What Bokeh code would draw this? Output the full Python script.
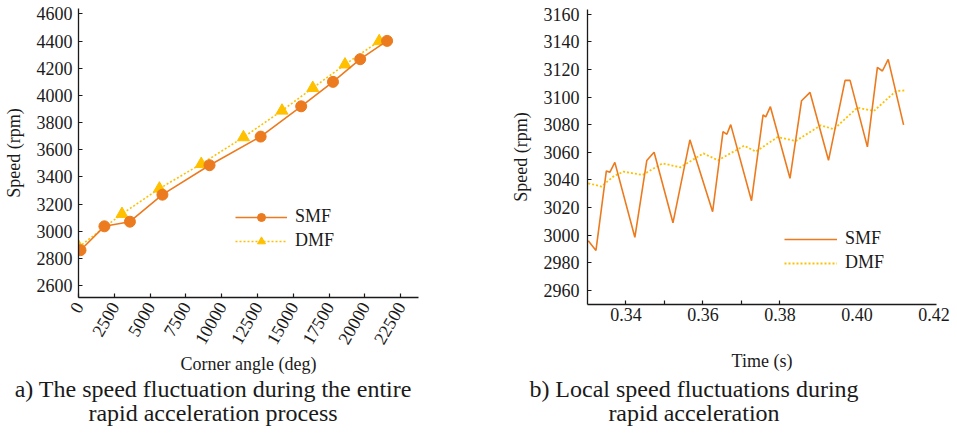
import math
from bokeh.plotting import figure
from bokeh.models import Range1d, FixedTicker, Legend, LegendItem, Div
from bokeh.layouts import row, column
from bokeh.embed import file_html
from bokeh.resources import INLINE

# ---------------- data: panel a (whole acceleration) ----------------
angle_smf = [140, 1810, 3590, 5860, 9150, 12720, 15550, 17770, 19670, 21550]
speed_smf = [2860, 3036, 3070, 3269, 3486, 3697, 3920, 4100, 4267, 4402]
angle_dmf = [20, 3035, 5650, 8570, 11520, 14210, 16360, 18610, 21000]
speed_dmf = [2884, 3127, 3314, 3495, 3692, 3888, 4055, 4228, 4400]
a_x_ticks = [0, 2500, 5000, 7500, 10000, 12500, 15000, 17500, 20000, 22500]
a_x_labels = ["0", "2500", "5000", "7500", "10000", "12500", "15000", "17500", "20000", "22500"]
a_y_ticks = [2600, 2800, 3000, 3200, 3400, 3600, 3800, 4000, 4200, 4400, 4600]

# ---------------- data: panel b (local fluctuation) ----------------
time_smf = [0.3302, 0.3322, 0.3349, 0.3358, 0.3371, 0.3423, 0.3454, 0.3473, 0.3522,
            0.3566, 0.3625, 0.3652, 0.3662, 0.3672, 0.3726, 0.3756, 0.3763, 0.3775,
            0.3826, 0.3856, 0.3878, 0.3926, 0.3969, 0.3982, 0.4027, 0.4053, 0.4066,
            0.4081, 0.4121]
speed_smf_b = [2996, 2989, 3046.5, 3045.5, 3052.7, 2998.5, 3054, 3060, 3009,
               3069, 3017, 3075, 3073, 3080, 3025, 3087, 3085.6, 3093,
               3041.2, 3097.3, 3103.3, 3054.2, 3112, 3112, 3063.9, 3121.4, 3118.8,
               3127.2, 3079.8]
time_dmf = [0.3302, 0.3336, 0.3369, 0.3394, 0.3443, 0.3495, 0.3541, 0.3601, 0.3639,
            0.3707, 0.3737, 0.3794, 0.3841, 0.3906, 0.3940, 0.4001, 0.4044, 0.4101,
            0.4127]
speed_dmf_b = [3037.6, 3035.2, 3042.9, 3046, 3043.6, 3052, 3049.1, 3059.2, 3054.2,
               3064.8, 3060.5, 3071, 3068.2, 3079.5, 3076.7, 3092.3, 3089.9, 3104.3,
               3104.8]
b_x_ticks = [0.34, 0.36, 0.38, 0.40, 0.42]
b_x_labels = ["0.34", "0.36", "0.38", "0.40", "0.42"]
b_x_marks = [0.34, 0.35, 0.36, 0.37, 0.38]   # tick marks drawn in the original
b_y_ticks = [2960, 2980, 3000, 3020, 3040, 3060, 3080, 3100, 3120, 3140, 3160]

series_names = ["SMF", "DMF"]
caption_a = "a) The speed fluctuation during the entire<br>rapid acceleration process"
caption_b = "b) Local speed fluctuations during<br>rapid acceleration"

ORANGE = "#EC7A1E"
GOLD = "#FFC000"
INK = "#1a1a1a"
FONT = "Liberation Serif"


def style(p):
    p.xgrid.grid_line_color = None
    p.ygrid.grid_line_color = None
    p.outline_line_color = None
    for ax in (p.xaxis[0], p.yaxis[0]):
        ax.axis_line_color = INK
        ax.axis_line_width = 1.3
        ax.major_tick_line_color = INK
        ax.major_tick_line_width = 1.2
        ax.major_tick_in = 4
        ax.major_tick_out = 0
        ax.minor_tick_line_color = None
        ax.major_label_text_font = FONT
        ax.major_label_text_font_size = "18px"
        ax.major_label_text_color = INK
        ax.axis_label_text_font = FONT
        ax.axis_label_text_font_size = "18px"
        ax.axis_label_text_font_style = "normal"
        ax.axis_label_text_color = INK


def legend(p, items, loc, gw):
    lg = Legend(items=items, location=loc, orientation="vertical")
    lg.glyph_width = gw
    lg.glyph_height = 20
    lg.label_height = 20
    lg.label_standoff = 8
    lg.spacing = 3
    lg.padding = 0
    lg.margin = 0
    lg.border_line_color = None
    lg.background_fill_alpha = 0
    lg.label_text_font = FONT
    lg.label_text_font_size = "18px"
    lg.label_text_color = INK
    p.add_layout(lg)


# ---------------- panel a ----------------
p1 = figure(width=448, height=377, x_range=Range1d(0, 23743), y_range=Range1d(2511.6, 4640.5),
            output_backend="svg", toolbar_location=None, frame_align=False,
            min_border_left=78, min_border_right=30, min_border_top=8, min_border_bottom=80)
style(p1)
p1.xaxis[0].ticker = FixedTicker(ticks=a_x_ticks)
p1.xaxis[0].major_label_overrides = dict(zip(a_x_ticks, a_x_labels))
p1.xaxis[0].major_label_orientation = 60 * math.pi / 180
p1.xaxis[0].major_label_standoff = 6
p1.xaxis[0].axis_label = "Corner angle (deg)"
p1.xaxis[0].axis_label_standoff = 2
p1.yaxis[0].ticker = FixedTicker(ticks=a_y_ticks)
p1.yaxis[0].major_label_standoff = 6
p1.yaxis[0].axis_label = "Speed (rpm)"
p1.yaxis[0].axis_label_standoff = 10

l_d = p1.line(angle_dmf, speed_dmf, line_color=GOLD, line_width=1.6, line_dash="2 2")
m_d = p1.scatter(angle_dmf, speed_dmf, marker="triangle", size=12, fill_color=GOLD, line_color=GOLD)
l_s = p1.line(angle_smf, speed_smf, line_color=ORANGE, line_width=1.6)
m_s = p1.scatter(angle_smf, speed_smf, marker="circle", size=11, fill_color=ORANGE, line_color=ORANGE)
legend(p1, [LegendItem(label=series_names[0], renderers=[l_s, m_s]),
            LegendItem(label=series_names[1], renderers=[l_d, m_d])], (157, 46), 52)

# ---------------- panel b ----------------
p2 = figure(width=507, height=377, x_range=Range1d(0.33, 0.42065), y_range=Range1d(2949.9, 3163.3),
            output_backend="svg", toolbar_location=None, frame_align=False,
            min_border_left=139, min_border_right=19, min_border_top=9, min_border_bottom=73)
style(p2)
p2.xaxis[0].ticker = FixedTicker(ticks=b_x_ticks, minor_ticks=b_x_marks)
p2.xaxis[0].major_label_overrides = dict(zip(b_x_ticks, b_x_labels))
p2.xaxis[0].major_tick_line_color = None
p2.xaxis[0].minor_tick_line_color = INK
p2.xaxis[0].minor_tick_line_width = 1.2
p2.xaxis[0].minor_tick_in = 4
p2.xaxis[0].minor_tick_out = 0
p2.xaxis[0].major_label_standoff = 3
p2.xaxis[0].axis_label = "Time (s)"
p2.xaxis[0].axis_label_standoff = 27
p2.yaxis[0].ticker = FixedTicker(ticks=b_y_ticks)
p2.yaxis[0].major_label_standoff = 8
p2.yaxis[0].axis_label = "Speed (rpm)"
p2.yaxis[0].axis_label_standoff = 10

l_d2 = p2.line(time_dmf, speed_dmf_b, line_color=GOLD, line_width=1.8, line_dash="2 2")
l_s2 = p2.line(time_smf, speed_smf_b, line_color=ORANGE, line_width=1.6)
legend(p2, [LegendItem(label=series_names[0], renderers=[l_s2]),
            LegendItem(label=series_names[1], renderers=[l_d2])], (197, 31), 53)

# ---------------- captions ----------------
cap_style = {"font-family": FONT, "font-size": "24px", "line-height": "24px",
             "text-align": "center", "color": INK, "white-space": "nowrap"}
d1 = Div(text=caption_a, width=426, height=52, margin=(0, 0, 0, 0), styles=cap_style)
d2 = Div(text=caption_b, width=496, height=52, margin=(0, 0, 0, 20), styles=cap_style)

layout = column(row(p1, p2), row(d1, d2))
open("out.html", "w").write(file_html(layout, INLINE))
